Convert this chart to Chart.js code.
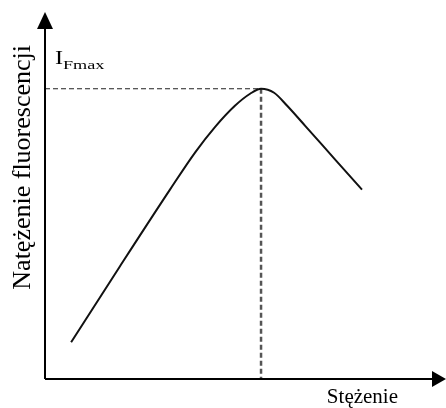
<!DOCTYPE html>
<html>
<head>
<meta charset="utf-8">
<script src="https://cdn.jsdelivr.net/npm/chart.js@4/dist/chart.umd.min.js"></script>
<style>
  body { margin: 0; background: #fff; }
</style>
</head>
<body>
<canvas id="wykres" width="446" height="408"></canvas>
<script>
// krzywa natezenia fluorescencji (jednostki umowne)
const stezenie = [0.74, 2.12, 3.54, 4.25, 4.82, 5.38, 5.81, 6.12, 6.49, 6.86, 7.37, 8.22, 8.98];
const natezenie = [1.10, 3.37, 5.67, 6.78, 7.55, 8.18, 8.54, 8.69, 8.57, 8.18, 7.58, 6.57, 5.67];

// maksimum
const maxX = 6.12;
const maxY = 8.69;

const tytulX = "Stężenie";
const tytulY = "Natężenie fluorescencji";
const etykietaMax = ["I", "Fmax"];

const wykres = document.getElementById("wykres");

const dataset = [];
stezenie.forEach((x, i) => {
  dataset.push({ x: x, y: natezenie[i] });
});

// osie ze strzalkami + etykieta I_Fmax
const strzalki = {
  id: "strzalki",
  afterDraw(chart) {
    const ctx = chart.ctx;
    const x0 = chart.scales.x.getPixelForValue(0);
    const y0 = chart.scales.y.getPixelForValue(0);
    ctx.save();
    ctx.strokeStyle = "#000";
    ctx.fillStyle = "#000";
    ctx.lineWidth = 2;

    ctx.beginPath();
    ctx.moveTo(x0, y0);
    ctx.lineTo(x0, 20);
    ctx.moveTo(x0, y0);
    ctx.lineTo(438, y0);
    ctx.stroke();

    // strzalka pionowa
    ctx.beginPath();
    ctx.moveTo(x0, 12);
    ctx.lineTo(x0 - 8, 29);
    ctx.lineTo(x0 + 8, 29);
    ctx.closePath();
    ctx.fill();

    // strzalka pozioma
    ctx.beginPath();
    ctx.moveTo(446, y0);
    ctx.lineTo(432, y0 - 8);
    ctx.lineTo(432, y0 + 8);
    ctx.closePath();
    ctx.fill();

    // tekst w oryginale jest troche rozciagniety w poziomie
    ctx.textBaseline = "alphabetic";
    ctx.textAlign = "left";
    ctx.save();
    ctx.translate(55, 64);
    ctx.scale(1.35, 1);
    ctx.font = "18px 'Liberation Serif'";
    ctx.fillText(etykietaMax[0], 0, 0);
    ctx.restore();
    ctx.save();
    ctx.translate(63, 69);
    ctx.scale(1.4, 1);
    ctx.font = "13px 'Liberation Serif'";
    ctx.fillText(etykietaMax[1], 0, 0);
    ctx.restore();
    ctx.restore();
  },
};

new Chart(wykres, {
  type: "scatter",
  data: {
    datasets: [
      {
        label: "krzywa",
        data: dataset,
        showLine: true,
        cubicInterpolationMode: "monotone",
        borderWidth: 2,
        borderColor: "#111",
        pointRadius: 0,
      },
      {
        label: "poziom",
        data: [{ x: 0, y: maxY }, { x: maxX, y: maxY }],
        showLine: true,
        borderWidth: 1.2,
        borderColor: "#222",
        borderDash: [5, 3],
        pointRadius: 0,
      },
      {
        label: "pion",
        data: [{ x: maxX, y: maxY }, { x: maxX, y: 0 }],
        showLine: true,
        borderWidth: 2.5,
        borderColor: "#555",
        borderDash: [5, 3],
        pointRadius: 0,
      },
    ],
  },
  options: {
    responsive: false,
    animation: false,
    layout: {
      padding: { left: 0, top: 45, right: 48, bottom: 0 },
    },
    scales: {
      x: {
        min: 0,
        max: 10,
        border: { display: false },
        grid: { display: false, drawTicks: false },
        ticks: { display: false },
        title: {
          display: true,
          text: tytulX,
          align: "end",
          color: "#000",
          font: { family: "'Liberation Serif'", size: 21, lineHeight: 1 },
          padding: { top: 8, bottom: 0 },
        },
      },
      y: {
        min: 0,
        max: 10,
        border: { display: false },
        grid: { display: false, drawTicks: false },
        ticks: { display: false },
        title: {
          display: true,
          text: tytulY,
          align: "end",
          color: "#000",
          font: { family: "'Liberation Serif'", size: 26, lineHeight: 1 },
          padding: { top: 10, bottom: 9 },
        },
      },
    },
    plugins: {
      legend: { display: false },
      tooltip: { enabled: false },
    },
  },
  plugins: [strzalki],
});
</script>
</body>
</html>
